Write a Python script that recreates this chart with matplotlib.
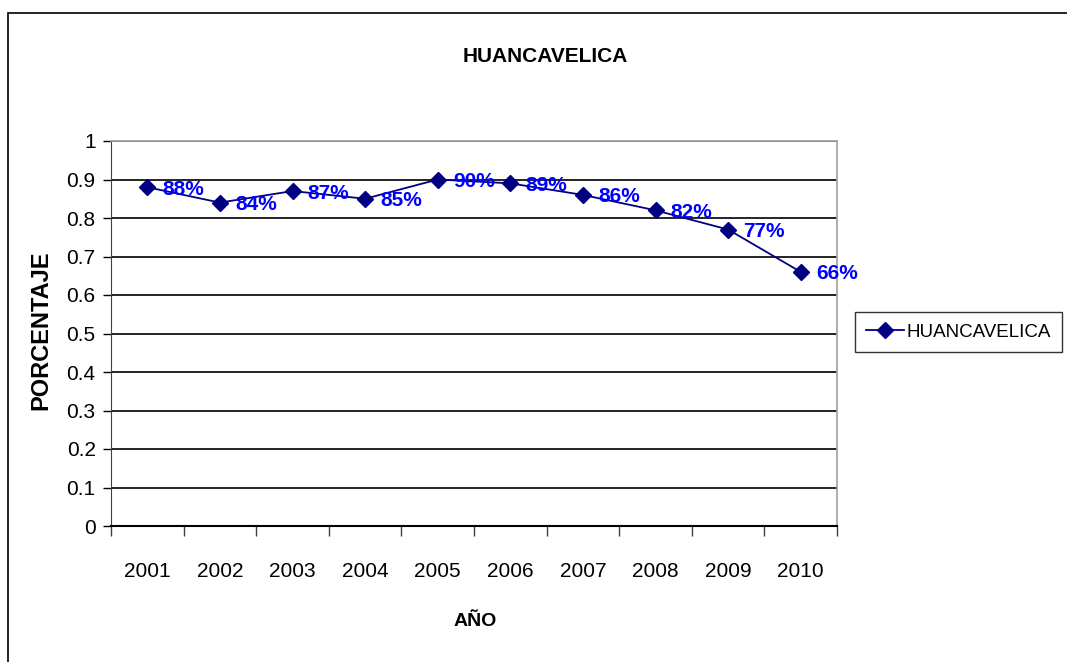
import matplotlib
matplotlib.use("Agg")
import matplotlib.pyplot as plt
from matplotlib.ticker import FixedLocator

years = ["2001", "2002", "2003", "2004", "2005", "2006", "2007", "2008", "2009", "2010"]
values = [0.88, 0.84, 0.87, 0.85, 0.90, 0.89, 0.86, 0.82, 0.77, 0.66]
labels = ["88%", "84%", "87%", "85%", "90%", "89%", "86%", "82%", "77%", "66%"]
yticks = [0, 0.1, 0.2, 0.3, 0.4, 0.5, 0.6, 0.7, 0.8, 0.9, 1]

fam = ["Liberation Sans", "DejaVu Sans"]
plt.rcParams["font.family"] = fam

fig = plt.figure(figsize=(10.67, 6.62), dpi=100)

# outer chart border
fig.patches.append(plt.Rectangle((8 / 1067, -0.1), 1.2, 1 - 13 / 662 + 0.1,
                                 transform=fig.transFigure, fill=False,
                                 edgecolor="black", linewidth=1.2))

ax = fig.add_axes([111 / 1067, 1 - 526 / 662, 726 / 1067, 385 / 662])
x = list(range(len(years)))
line, = ax.plot(x, values, color="#000080", marker="D", markersize=8,
                linewidth=1.3, label="HUANCAVELICA", zorder=3)

for xi, v, lab in zip(x, values, labels):
    ax.annotate(lab, (xi, v), xytext=(11, -1.5), textcoords="offset points",
                color="#0000FF", fontsize=15, fontweight="bold", va="center",
                ha="left", zorder=4, annotation_clip=False)

ax.set_xlim(-0.5, len(years) - 0.5)
ax.set_ylim(0, 1)
ax.set_yticks(yticks)
ax.set_yticklabels([f"{t:g}" for t in yticks], fontsize=15)
ax.yaxis.grid(True, color="black", linewidth=1.2)
ax.set_axisbelow(True)

ax.set_xticks(x)
ax.set_xticklabels(years, fontsize=15)
ax.xaxis.set_minor_locator(FixedLocator([i - 0.5 for i in range(len(years) + 1)]))
ax.tick_params(axis="x", which="major", length=0, pad=26)
ax.tick_params(axis="x", which="minor", length=7, width=1, color="#404040")
ax.tick_params(axis="y", length=6, width=1, pad=5)

for s in ["top", "right"]:
    ax.spines[s].set_color("#a0a0a0")
    ax.spines[s].set_linewidth(1.2)
ax.spines["left"].set_color("#404040")
ax.spines["bottom"].set_linewidth(1.5)

fig.text(545 / 1067, 1 - 57 / 662, "HUANCAVELICA", ha="center", va="center",
         fontsize=15, fontweight="bold")
fig.text(41 / 1067, 1 - 330 / 662, "PORCENTAJE", ha="center", va="center",
         rotation=90, fontsize=17, fontweight="bold")
fig.text(475 / 1067, 1 - 622 / 662, "AÑO", ha="center", va="center",
         fontsize=14, fontweight="bold")

leg = fig.legend(handles=[line], loc="center left",
                 bbox_to_anchor=(851 / 1067, 1 - 332 / 662), fontsize=13.5,
                 frameon=True, fancybox=False, edgecolor="black",
                 handlelength=2.0, handletextpad=0.15, borderpad=0.6,
                 borderaxespad=0.2)
leg.get_frame().set_linewidth(1.0)

fig.savefig("out.png", dpi=100)
